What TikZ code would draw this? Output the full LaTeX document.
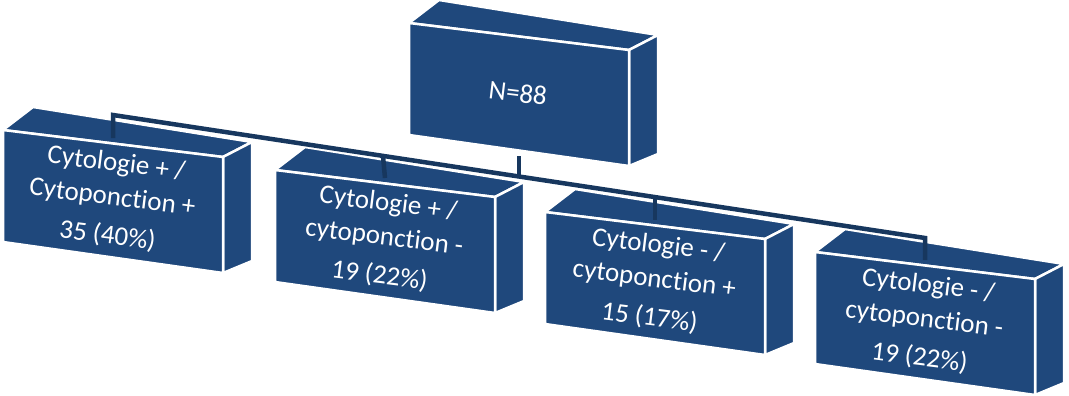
\documentclass[tikz,border=0pt]{standalone}
\usepackage{fontspec}
\setmainfont{Carlito}[Ligatures=NoCommon]
\usepackage{tikz}
\definecolor{boxblue}{HTML}{1F487C}
\definecolor{linkblue}{HTML}{17375E}

% 3D box: name, x, y (front top-left), text
\newcommand{\blocbox}[4]{%
	\filldraw[face] (#2,#3) -- (#2+30,#3-23) -- (#2+249,#3+12) -- (#2+220,#3+27) -- cycle;
	\filldraw[face] (#2+220,#3+27) -- (#2+249,#3+12) -- (#2+249,#3+131) -- (#2+220,#3+143) -- cycle;
	\filldraw[face] (#2,#3) -- (#2+220,#3+27) -- (#2+220,#3+143) -- (#2,#3+112) -- cycle;
	\node[label] (#1) at (#2+109,#3+70) {#4};
	\coordinate (#1-top) at (#2+110,#3+8);
}
% no ti ligature
\newcommand{\cyto}{ytoponct\kern0pt ion}

\begin{document}
\begin{tikzpicture}[
		x=1pt, y=-1pt,
		face/.style={fill=boxblue, draw=white, line width=2.5pt, line join=round},
		label/.style={text=white, align=center, rotate=-7, font=\fontsize{27}{34}\selectfont},
		link/.style={draw=linkblue, line width=4.5pt}
	]
		\useasboundingbox (0,0) rectangle (1069,396);
		
		% Top box
		\blocbox{root}{409}{23}{N=88}
		\coordinate (root-bot) at (519,156);
		
		% Result boxes
		\blocbox{b1}{3}{130}{Cytologie + /\\C\cyto{} +\\[5pt]35 (40\%)}
		\blocbox{b2}{275}{170}{Cytologie + /\\c\cyto{} -\\[5pt]19 (22\%)}
		\blocbox{b3}{545}{212}{Cytologie - /\\c\cyto{} +\\[5pt]15 (17\%)}
		\blocbox{b4}{815}{252}{Cytologie - /\\c\cyto{} -\\[5pt]19 (22\%)}
		
		% Bus points
		\coordinate (b1-bus) at (113,115);
		\coordinate (b2-bus) at (383,156);
		\coordinate (root-bus) at (519,176);
		\coordinate (b3-bus) at (655,197);
		\coordinate (b4-bus) at (925,238);
		
		% Links
		\draw[link] (b1-top) -- (b1-bus) -- (b4-bus) -- (b4-top);
		\draw[link] (root-bot) -- (root-bus);
		\draw[link] (b2-bus) -- (b2-top);
		\draw[link] (b3-bus) -- (b3-top);
	\end{tikzpicture}
\end{document}
